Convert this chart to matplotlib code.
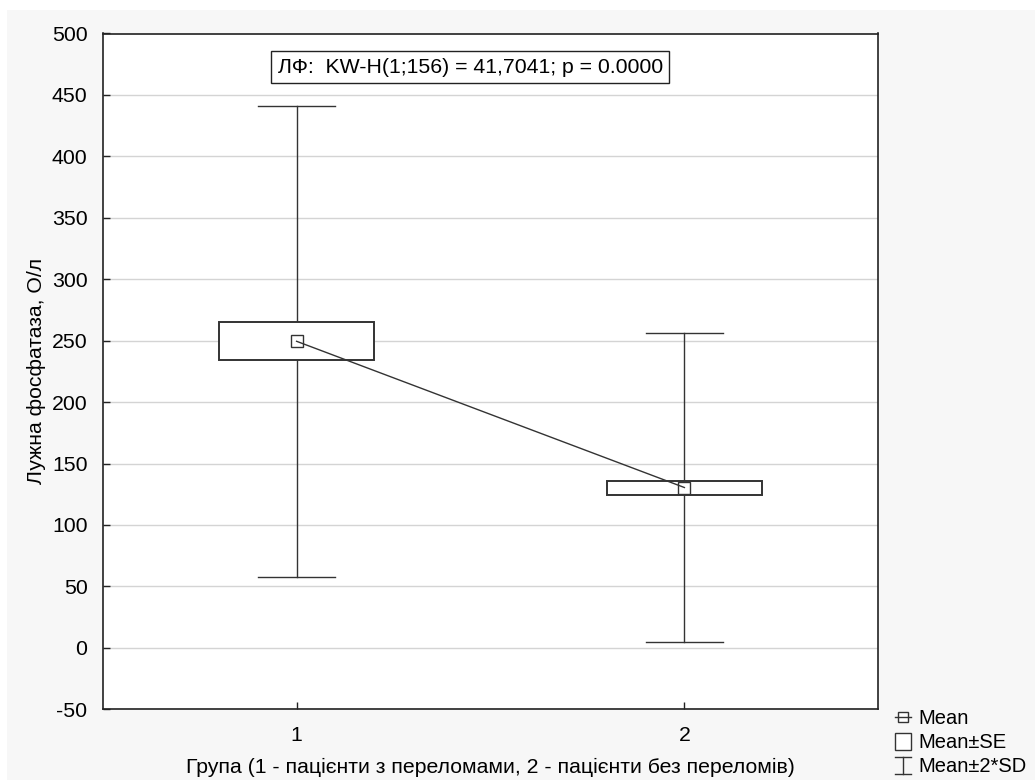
import matplotlib
matplotlib.use("Agg")
import matplotlib.pyplot as plt
from matplotlib.lines import Line2D
from matplotlib.patches import Rectangle
from matplotlib.legend_handler import HandlerBase

plt.rcParams['font.family'] = ['Liberation Sans', 'DejaVu Sans']
plt.rcParams['axes.unicode_minus'] = False

# group statistics for alkaline phosphatase
groups = [1, 2]
means = [249.5, 130.5]
se = [15.5, 5.7]
sd = [95.9, 62.9]

y_ticks = [-50, 0, 50, 100, 150, 200, 250, 300, 350, 400, 450, 500]
stat_text = "ЛФ:  KW-H(1;156) = 41,7041; p = 0.0000"
xlabel = "Група (1 - пацієнти з переломами, 2 - пацієнти без переломів)"
ylabel = "Лужна фосфатаза, О/л"

edge = '#333333'
box_half = 0.2
cap_half = 0.1
fs = 15.3


class MeanHandler(HandlerBase):
    def create_artists(self, legend, orig_handle, xdescent, ydescent,
                       width, height, fontsize, trans):
        cx = width / 2 - xdescent
        cy = height / 2 - ydescent
        line = Line2D([cx - 6, cx + 6], [cy, cy], color=edge, lw=1.0, transform=trans)
        sq = Rectangle((cx - 3.5, cy - 3.5), 7, 7, facecolor='white', edgecolor=edge,
                       lw=1.0, transform=trans)
        return [sq, line]


class WhiskerHandler(HandlerBase):
    def create_artists(self, legend, orig_handle, xdescent, ydescent,
                       width, height, fontsize, trans):
        cx = width / 2 - xdescent
        top = height - ydescent + 1
        bot = -ydescent - 1
        w = 6
        lines = [
            Line2D([cx, cx], [bot, top]),
            Line2D([cx - w, cx + w], [top, top]),
            Line2D([cx - w, cx + w], [bot, bot]),
        ]
        for ln in lines:
            ln.set_color(edge)
            ln.set_linewidth(1.0)
            ln.set_transform(trans)
        return lines


class BoxHandler(HandlerBase):
    def create_artists(self, legend, orig_handle, xdescent, ydescent,
                       width, height, fontsize, trans):
        w = 12
        cx = width / 2 - xdescent
        r = Rectangle((cx - w / 2, -ydescent - 1), w, height + 2,
                      facecolor='white', edgecolor=edge, linewidth=1.0,
                      transform=trans)
        return [r]


fig = plt.figure(figsize=(10.35, 7.8), dpi=100, facecolor='white')
fig.add_artist(Rectangle((7 / 1035, 0), 1, 1 - 10 / 780, transform=fig.transFigure,
                         facecolor='#f7f7f7', edgecolor='none', zorder=-10))
ax = fig.add_axes([102.7 / 1035, 1 - 709.3 / 780, 775.6 / 1035, 675.8 / 780])
ax.set_facecolor('white')

for g, m, s, d in zip(groups, means, se, sd):
    # whisker: mean +/- 2*SD
    ax.plot([g, g], [m - 2 * d, m + 2 * d], color=edge, lw=1.0, zorder=2)
    ax.plot([g - cap_half, g + cap_half], [m + 2 * d] * 2, color=edge, lw=1.0, zorder=2)
    ax.plot([g - cap_half, g + cap_half], [m - 2 * d] * 2, color=edge, lw=1.0, zorder=2)
    # box: mean +/- SE
    ax.add_patch(Rectangle((g - box_half, m - s), 2 * box_half, 2 * s,
                           facecolor='white', edgecolor=edge, lw=1.4, zorder=3))

ax.plot(groups, means, ls='none', marker='s', markersize=8, markerfacecolor='white',
        markeredgecolor=edge, markeredgewidth=1.0, zorder=4)
ax.plot(groups, means, color=edge, lw=1.0, zorder=5)

ax.set_xlim(0.5, 2.5)
ax.set_ylim(-50, 500)
ax.set_xticks(groups)
ax.set_yticks(y_ticks)
ax.yaxis.grid(True, color='#d4d4d4', lw=1.0, zorder=0)
ax.set_axisbelow(True)
ax.tick_params(direction='in', length=5, width=1, labelsize=fs, color='#222222')
ax.tick_params(axis='x', pad=12)
ax.tick_params(axis='y', pad=11)
for sp in ax.spines.values():
    sp.set_color('#222222')
    sp.set_linewidth(1.2)

ax.set_xlabel(xlabel, fontsize=fs, labelpad=9)
ax.set_ylabel(ylabel, fontsize=fs, labelpad=4)

ax.text(0.474, 0.950, stat_text, transform=ax.transAxes, ha='center', va='center',
        fontsize=fs, zorder=6,
        bbox=dict(boxstyle='square,pad=0.3', facecolor='white', edgecolor='#222222', lw=1.0))

mean_handle = Line2D([], [])
se_handle = Rectangle((0, 0), 1, 1)
sd_handle = Line2D([], [], ls='--')
fig.legend([mean_handle, se_handle, sd_handle], ['Mean', 'Mean±SE', 'Mean±2*SD'],
           handler_map={mean_handle: MeanHandler(), se_handle: BoxHandler(),
                        sd_handle: WhiskerHandler()},
           loc='upper left', bbox_to_anchor=(880 / 1035, 1 - 695 / 780),
           frameon=False, fontsize=14.5, handlelength=0.9, handletextpad=0.3,
           labelspacing=0.25, borderpad=0.2)

fig.savefig('out.png', dpi=100, facecolor=fig.get_facecolor())
